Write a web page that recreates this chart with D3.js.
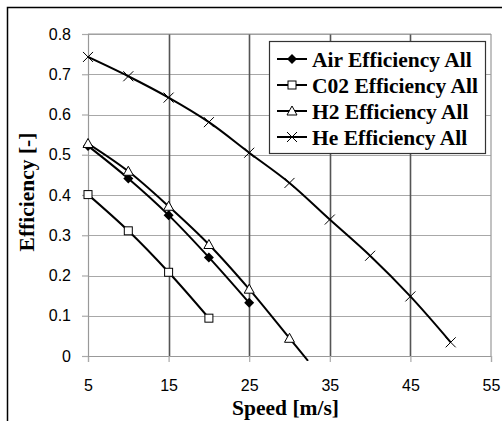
<!DOCTYPE html>
<html><head><meta charset="utf-8">
<script src="https://cdn.jsdelivr.net/npm/d3@7"></script>
<style>body{margin:0;background:#fff}</style>
</head><body>
<svg id="c" width="502" height="421"></svg>
<script>
const xTicks = [5, 15, 25, 35, 45, 55];
const yTicks = [0, 0.1, 0.2, 0.3, 0.4, 0.5, 0.6, 0.7, 0.8];
const airX = [5, 10, 15, 20, 25];
const airY = [0.522, 0.441, 0.350, 0.245, 0.132];
const co2X = [5, 10, 15, 20];
const co2Y = [0.401, 0.311, 0.208, 0.094];
const h2X = [5, 10, 15, 20, 25, 30, 32.3];
const h2Y = [0.528, 0.459, 0.372, 0.277, 0.166, 0.044, -0.012];
const heX = [5, 10, 15, 20, 25, 30, 35, 40, 45, 50];
const heY = [0.743, 0.695, 0.642, 0.581, 0.505, 0.430, 0.339, 0.249, 0.148, 0.034];
const seriesNames = ["Air Efficiency All", "C02 Efficiency All", "H2 Efficiency All", "He Efficiency All"];
const markerTypes = ["diamond", "square", "triangle", "cross"];

const series = [
  {name: seriesNames[0], xs: airX, ys: airY, m: markerTypes[0]},
  {name: seriesNames[1], xs: co2X, ys: co2Y, m: markerTypes[1]},
  {name: seriesNames[2], xs: h2X, ys: h2Y, m: markerTypes[2]},
  {name: seriesNames[3], xs: heX, ys: heY, m: markerTypes[3]}
];

const svg = d3.select("#c");
const x = d3.scaleLinear().domain([5, 55]).range([88, 491]);
const y = d3.scaleLinear().domain([0, 0.8]).range([356, 34]);

// outer frame
svg.append("rect").attr("x", 7.5).attr("y", 7.5).attr("width", 700).attr("height", 700)
  .attr("fill", "none").attr("stroke", "#000").attr("stroke-width", 1.5);

// horizontal gridlines
svg.append("g").selectAll("line").data(yTicks.filter(d => d > 0)).join("line")
  .attr("x1", x(5)).attr("x2", x(55)).attr("y1", d => Math.round(y(d)) + 0.5).attr("y2", d => Math.round(y(d)) + 0.5)
  .attr("stroke", "#a8a8a8").attr("stroke-width", 1.2);
// vertical gridlines
svg.append("g").selectAll("line").data(xTicks.filter(d => d > 5 && d < 55)).join("line")
  .attr("x1", d => Math.round(x(d)) + 0.5).attr("x2", d => Math.round(x(d)) + 0.5).attr("y1", y(0.8)).attr("y2", y(0))
  .attr("stroke", "#555").attr("stroke-width", 1.6);
// plot border right/top
svg.append("line").attr("x1", x(55)).attr("x2", x(55)).attr("y1", y(0.8)).attr("y2", y(0)).attr("stroke", "#999").attr("stroke-width", 1.2);
svg.append("line").attr("x1", x(5)).attr("x2", x(55)).attr("y1", y(0.8)).attr("y2", y(0.8)).attr("stroke", "#999").attr("stroke-width", 1.2);

// axes
const xAxis = d3.axisBottom(x).tickValues(xTicks).tickSize(6).tickPadding(18).tickFormat(d3.format("d"));
const yAxis = d3.axisLeft(y).tickValues(yTicks).tickSize(6).tickPadding(11).tickFormat(d => d === 0 ? "0" : d3.format(".1f")(d));
const gx = svg.append("g").attr("transform", `translate(0,${y(0)})`).call(xAxis);
const gy = svg.append("g").attr("transform", `translate(${x(5)},0)`).call(yAxis);
[gx, gy].forEach(g => {
  g.select(".domain").attr("stroke", "#999").attr("stroke-width", 1.2);
  g.selectAll(".tick line").attr("stroke", "#aaa").attr("stroke-width", 1.2);
  g.selectAll(".tick text").attr("font-family", "Liberation Sans, Arial, sans-serif").attr("font-size", 16).attr("fill", "#000");
});

// clip
svg.append("clipPath").attr("id", "clip").append("rect").attr("x", x(5)).attr("y", y(0.8)).attr("width", x(55) - x(5)).attr("height", y(0) - y(0.8) + 5);

const line = d3.line().x(d => x(d[0])).y(d => y(d[1])).curve(d3.curveCatmullRom.alpha(0.5));
const gLines = svg.append("g").attr("clip-path", "url(#clip)");
series.forEach(s => {
  const pts = s.xs.map((v, i) => [v, s.ys[i]]);
  gLines.append("path").datum(pts).attr("d", line).attr("fill", "none").attr("stroke", "#000").attr("stroke-width", 2);
});

function drawMarker(g, type, cx, cy) {
  if (type === "diamond") {
    g.append("path").attr("d", `M${cx},${cy-5}L${cx+5},${cy}L${cx},${cy+5}L${cx-5},${cy}Z`).attr("fill", "#000");
  } else if (type === "square") {
    g.append("rect").attr("x", cx - 4).attr("y", cy - 4).attr("width", 8).attr("height", 8).attr("fill", "#fff").attr("stroke", "#000").attr("stroke-width", 1);
  } else if (type === "triangle") {
    g.append("path").attr("d", `M${cx},${cy-5}L${cx+5},${cy+4}L${cx-5},${cy+4}Z`).attr("fill", "#fff").attr("stroke", "#000").attr("stroke-width", 1);
  } else {
    g.append("path").attr("d", `M${cx-5},${cy-5}L${cx+5},${cy+5}M${cx-5},${cy+5}L${cx+5},${cy-5}`).attr("stroke", "#000").attr("stroke-width", 1);
  }
}
const gMarks = svg.append("g");
series.forEach(s => {
  s.xs.forEach((v, i) => {
    if (s.ys[i] >= 0) drawMarker(gMarks, s.m, x(v), y(s.ys[i]));
  });
});

// legend
const lg = svg.append("g");
lg.append("rect").attr("x", 269.5).attr("y", 41.5).attr("width", 216).attr("height", 112)
  .attr("fill", "#fff").attr("stroke", "#333").attr("stroke-width", 1.2);
series.forEach((s, i) => {
  const cy = 59 + i * 26;
  lg.append("line").attr("x1", 277).attr("x2", 307).attr("y1", cy).attr("y2", cy).attr("stroke", "#000").attr("stroke-width", 2);
  drawMarker(lg, s.m, 292, cy);
  lg.append("text").attr("x", 312).attr("y", cy).attr("dy", "0.36em")
    .attr("font-family", "Liberation Serif, Times New Roman, serif").attr("font-weight", "bold").attr("font-size", 21.5)
    .text(s.name);
});

// axis titles
svg.append("text").attr("x", 285.5).attr("y", 415).attr("text-anchor", "middle")
  .attr("font-family", "Liberation Serif, Times New Roman, serif").attr("font-weight", "bold").attr("font-size", 21.5)
  .text("Speed [m/s]");
svg.append("text").attr("transform", "translate(34,192) rotate(-90)").attr("text-anchor", "middle")
  .attr("font-family", "Liberation Serif, Times New Roman, serif").attr("font-weight", "bold").attr("font-size", 21.5)
  .text("Efficiency [-]");
</script>
</body></html>
